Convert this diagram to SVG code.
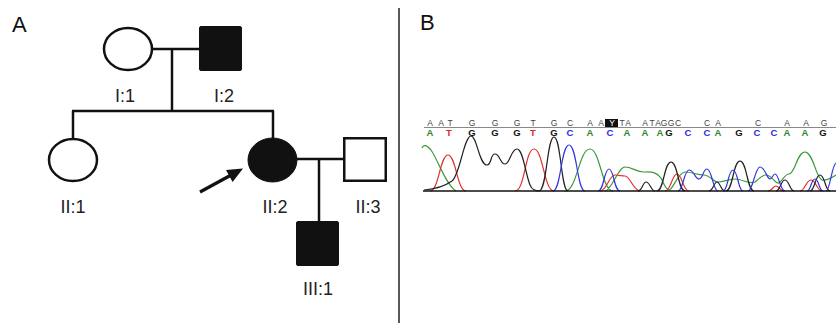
<svg xmlns="http://www.w3.org/2000/svg" width="836" height="323" viewBox="0 0 836 323">
<style>
.ln{stroke:#111;stroke-width:2.5;fill:none}
.open{fill:#fff;stroke:#111;stroke-width:2.5}
.fill{fill:#111;stroke:#111;stroke-width:1}
.lbl{font-family:"Liberation Sans",Arial,sans-serif;font-size:18px;fill:#222;text-anchor:middle}
.pan{font-family:"Liberation Sans",Arial,sans-serif;font-size:22px;fill:#111}
.t{font-family:"Liberation Sans",Arial,sans-serif;font-size:8.5px;fill:#444;text-anchor:middle}
.b{font-family:"Liberation Sans",Arial,sans-serif;font-size:9.5px;font-weight:bold;text-anchor:middle}
.gA{fill:#2e8b2e}.gT{fill:#e02a2a}.gG{fill:#111}.gC{fill:#2a2ae0}
.tr{fill:none;stroke-width:1.2}
.trG{stroke:#3a9a3a}.trR{stroke:#e23030}.trK{stroke:#222}.trB{stroke:#3535e0}
</style>
<rect width="836" height="323" fill="#fff"/>
<text class="pan" x="12" y="32">A</text>
<text class="pan" x="420" y="30">B</text>
<line x1="399" y1="8" x2="399" y2="323" stroke="#222" stroke-width="1.5"/>

<g id="connectors">
<line class="ln" x1="152" y1="49" x2="200" y2="49"/>
<line class="ln" x1="172" y1="49" x2="172" y2="111"/>
<line class="ln" x1="72" y1="111" x2="274" y2="111"/>
<line class="ln" x1="73" y1="111" x2="73" y2="139"/>
<line class="ln" x1="273" y1="111" x2="273" y2="139"/>
<line class="ln" x1="296" y1="159" x2="345" y2="159"/>
<line class="ln" x1="319" y1="159" x2="319" y2="222"/>
</g>

<g id="I1"><ellipse class="open" cx="128" cy="49" rx="24" ry="21"/><text class="lbl" x="125" y="102">I:1</text></g>
<g id="I2"><rect class="fill" x="199.5" y="26.5" width="42" height="44" rx="1.5"/><text class="lbl" x="224" y="102">I:2</text></g>
<g id="II1"><ellipse class="open" cx="73" cy="160" rx="24" ry="21"/><text class="lbl" x="73" y="213">II:1</text></g>
<g id="II2"><ellipse class="fill" cx="272.5" cy="160" rx="24.5" ry="22"/><text class="lbl" x="275" y="213">II:2</text></g>
<g id="II3"><rect class="open" x="344.25" y="138.25" width="41.5" height="42.5"/><text class="lbl" x="368" y="213">II:3</text></g>
<g id="III1"><rect class="fill" x="296.5" y="221.5" width="42" height="44" rx="1.5"/><text class="lbl" x="318" y="295">III:1</text></g>
<g id="proband-arrow">
<line x1="200" y1="192" x2="233" y2="174" stroke="#111" stroke-width="3.2"/>
<polygon points="243,168.5 232.6,182 226,170" fill="#111"/>
</g>

<g id="chromatogram">
<line x1="424" y1="127.5" x2="836" y2="127.5" stroke="#888" stroke-width="1"/>
<g>
<text class="t" x="430" y="126">A</text><text class="t" x="441" y="126">A</text><text class="t" x="450" y="126">T</text>
<text class="t" x="472" y="126">G</text><text class="t" x="495" y="126">G</text><text class="t" x="517" y="126">G</text>
<text class="t" x="533" y="126">T</text><text class="t" x="554" y="126">G</text><text class="t" x="570" y="126">C</text>
<text class="t" x="590" y="126">A</text><text class="t" x="601" y="126">A</text>
<rect x="605" y="119" width="13" height="8" fill="#111"/>
<text class="t" x="612" y="126" style="fill:#fff">Y</text>
<text class="t" x="622" y="126">T</text><text class="t" x="628" y="126">A</text>
<text class="t" x="645" y="126">A</text><text class="t" x="652" y="126">T</text><text class="t" x="658" y="126">A</text>
<text class="t" x="664" y="126">G</text><text class="t" x="671" y="126">G</text><text class="t" x="678" y="126">C</text>
<text class="t" x="707" y="126">C</text><text class="t" x="718" y="126">A</text>
<text class="t" x="758" y="126">C</text><text class="t" x="787" y="126">A</text><text class="t" x="806" y="126">A</text><text class="t" x="824" y="126">G</text>
</g>
<g>
<text class="b gA" x="430" y="136">A</text><text class="b gT" x="449" y="136">T</text>
<text class="b gG" x="472" y="136">G</text><text class="b gG" x="495" y="136">G</text><text class="b gG" x="517" y="136">G</text>
<text class="b gT" x="533" y="136">T</text><text class="b gG" x="554" y="136">G</text><text class="b gC" x="570" y="136">C</text>
<text class="b gA" x="590" y="136">A</text><text class="b gC" x="610" y="136">C</text><text class="b gA" x="627" y="136">A</text>
<text class="b gA" x="645" y="136">A</text><text class="b gA" x="660" y="136">A</text><text class="b gG" x="669" y="136">G</text>
<text class="b gC" x="688" y="136">C</text><text class="b gC" x="707" y="136">C</text><text class="b gA" x="718" y="136">A</text>
<text class="b gG" x="739" y="136">G</text><text class="b gC" x="757" y="136">C</text><text class="b gC" x="774" y="136">C</text>
<text class="b gA" x="787" y="136">A</text><text class="b gA" x="805" y="136">A</text><text class="b gG" x="823" y="136">G</text>
</g>
<path class="tr trG" d="M422,148 C423,145 426,144 431,150 C438,160 446,185 456,191 M565,191 C577,191 579,149 590,149 C600,149 602,191 613,191 M605,191 C612,190 618,167 625,167 C632,167 636,172 644,172 C650,172 656,171 661,178 C664,184 666,190 669,190 C673,190 678,172 685,172 C692,172 697,175 704,175 C710,175 713,182 718,182 C724,182 728,179 735,179 C742,179 750,185 755,182 C760,178 762,175 766,175 C772,175 776,185 779,183 C783,180 785,174 789,174 C795,174 797,152 805,152 C813,152 816,178 822,180 C826,181 830,179 836,175"/>
<path class="tr trR" d="M430,191 C439,191 440,155 448,155 C456,155 457,191 466,191 M515,191 C525,191 525,149 534,149 C543,149 544,191 554,191 M600,191 C607,191 609,175 615,175 C620,175 621,176 625,176 C630,176 633,190 640,191 M665,191 C671,191 672,174 677,174 C682,174 683,191 689,191 M768,191 C772,191 773,186 776,186 C779,186 780,191 784,191 M800,191 C805,191 806,180 811,180 C816,180 817,191 822,191"/>
<path class="tr trK" d="M424,190 C436,189 445,186 452,181 C460,175 464,136 471,136 C477,136 479,165 487,165 C492,165 490,154 495,154 C500,154 500,164 505,164 C510,164 511,149 517,149 C523,149 525,172 530,185 C532,190 535,191 540,191 M539,191 C547,191 547,137 554,137 C561,137 561,191 568,191 M638,191 C642,191 643,182 646,182 C650,182 651,191 655,191 M657,191 C664,191 664,162 671,162 C678,162 678,191 685,191 M709,191 C713,191 714,182 717,182 C720,182 721,191 725,191 M726,191 C733,191 733,161 740,161 C747,161 747,191 754,191 M776,191 C780,191 781,180 785,180 C789,180 790,191 794,191 M810,191 C815,191 815,175 820,175 C825,175 825,191 830,191"/>
<path class="tr trB" d="M553,191 C561,191 561,145 569,145 C577,145 577,191 585,191 M598,191 C604,191 604,169 609,169 C614,169 614,191 620,191 M678,191 C683,191 684,170 689,170 C694,170 695,179 699,179 C703,179 703,169 707,169 C712,169 713,191 718,191 M723,191 C728,191 728,170 733,170 C738,170 738,191 743,191 M748,191 C753,191 755,167 760,167 C765,167 767,179 770,179 C772,179 773,174 775,174 C779,174 780,191 785,191 M807,191 C811,191 811,179 815,179 C819,179 819,191 823,191 M826,191 C830,191 832,164 836,163"/>
<line x1="423" y1="191" x2="836" y2="191" stroke="#111" stroke-width="1.6"/>
</g>
</svg>
